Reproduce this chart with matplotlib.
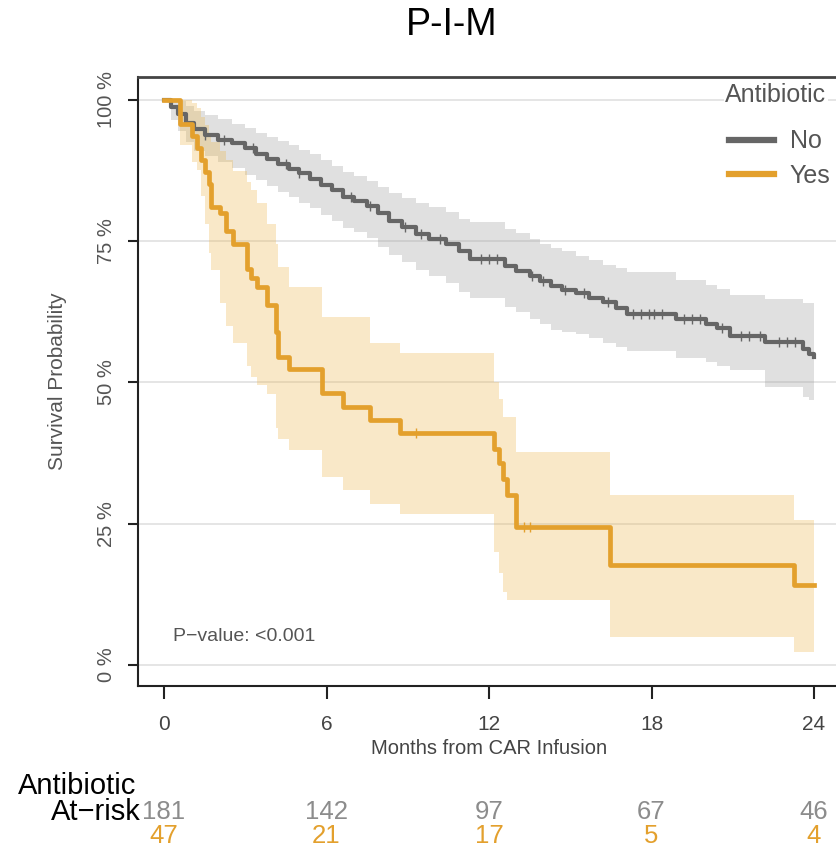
import numpy as np
import matplotlib
matplotlib.use('Agg')
import matplotlib.pyplot as plt
from matplotlib import transforms
from matplotlib.lines import Line2D

# ---------------- data ----------------
no_t = [0, 0.25, 0.5, 0.8, 1.1, 1.5, 2.0, 2.5, 3.0, 3.4, 3.8, 4.2, 4.6, 5.0, 5.4, 5.8, 6.2, 6.6, 7.0, 7.5,
        7.9, 8.3, 8.8, 9.3, 9.8, 10.4, 10.9, 11.3, 12.6, 13.0, 13.5, 13.9, 14.3, 14.7, 15.2, 15.7, 16.2,
        16.7, 17.1, 18.9, 20.0, 20.4, 20.9, 22.2, 23.6, 23.8, 24.0]
no_s = [100, 98.8, 97.5, 96.0, 94.8, 93.8, 93.0, 92.3, 91.5, 90.5, 89.5, 88.6, 87.8, 87.0, 86.0, 85.0,
        84.0, 82.8, 82.2, 81.3, 80.0, 78.6, 77.6, 76.2, 75.4, 74.5, 73.2, 71.8, 70.6, 69.8, 68.8, 68.0,
        67.0, 66.4, 65.8, 65.0, 64.3, 63.2, 62.2, 61.2, 60.4, 59.6, 58.2, 57.2, 56.0, 55.0, 54.5]
no_up = [100, 100, 99.8, 99.0, 98.0, 97.3, 96.6, 95.8, 95.0, 94.2, 93.5, 92.7, 92.0, 91.2, 90.4, 89.3,
         88.4, 87.3, 86.6, 85.6, 84.6, 83.6, 82.7, 81.8, 81.0, 80.2, 79.0, 78.4, 77.2, 76.4, 75.4, 74.6,
         73.8, 73.2, 72.4, 71.6, 70.8, 70.2, 69.6, 68.1, 67.3, 66.6, 65.4, 64.8, 64.0, 64.0, 64.0]
no_lo = [100, 96.5, 94.5, 92.5, 91.0, 90.0, 89.0, 88.0, 86.8, 85.8, 84.8, 83.8, 82.8, 81.8, 80.8, 79.6,
         78.5, 77.3, 76.6, 75.5, 74.0, 72.5, 71.4, 69.9, 68.9, 67.6, 66.0, 64.9, 63.4, 62.4, 61.3, 60.3,
         59.3, 59.0, 58.6, 57.8, 57.0, 56.3, 55.5, 54.3, 53.6, 53.0, 52.2, 49.2, 47.4, 46.9, 46.5]
no_cens = [1.5, 2.2, 3.3, 4.5, 5.0, 6.9, 7.6, 8.9, 9.5, 10.2, 11.7, 12.0, 12.3, 13.6, 14.0, 14.8, 15.5,
           16.4, 17.3, 17.6, 17.9, 18.1, 18.4, 19.2, 19.5, 19.8, 20.6, 21.3, 21.6, 22.0, 22.7, 23.0, 23.3]

yes_t = [0, 0.6, 1.05, 1.2, 1.35, 1.5, 1.65, 1.75, 2.05, 2.3, 2.55, 3.05, 3.2, 3.45, 3.8, 4.15, 4.2,
         4.6, 5.85, 6.6, 7.6, 8.7, 12.2, 12.35, 12.5, 12.65, 13.0, 16.45, 23.25, 24.0]
yes_s = [100, 95.7, 93.6, 91.5, 89.4, 87.2, 85.1, 81.0, 80.0, 76.8, 74.5, 70.0, 68.5, 66.9, 63.8, 59.0,
         54.5, 52.4, 48.1, 45.7, 43.4, 41.1, 38.2, 35.8, 33.0, 30.1, 24.4, 17.7, 14.2, 14.2]
yes_up = [100, 100, 99.5, 98.5, 97.0, 95.5, 94.0, 92.5, 91.0, 89.4, 87.5, 85.5, 84.0, 81.8, 78.0, 74.5,
          70.5, 66.9, 61.6, 61.6, 57.0, 55.2, 50.0, 47.0, 43.9, 43.9, 37.7, 30.1, 25.7, 25.7]
yes_lo = [100, 92.0, 89.0, 87.6, 83.0, 78.0, 73.0, 69.9, 64.1, 60.0, 57.0, 53.0, 51.0, 49.5, 48.0, 42.0,
          40.0, 38.0, 33.3, 31.0, 28.5, 26.8, 20.0, 16.3, 13.0, 11.5, 11.5, 5.0, 2.3, 2.3]
yes_cens = [9.3, 13.3, 13.5]

groups = ["No", "Yes"]
risk_times = [0, 6, 12, 18, 24]
risk_no = [181, 142, 97, 67, 46]
risk_yes = [47, 21, 17, 5, 4]
y_ticks = [0, 25, 50, 75, 100]
y_ticklabels = ["0 %", "25 %", "50 %", "75 %", "100 %"]

# ---------------- style ----------------
GRAY = '#666666'
ORANGE = '#E3A02D'
REG = ['Liberation Sans', 'DejaVu Sans']
plt.rcParams['font.family'] = REG

W, H = 836, 849
fig = plt.figure(figsize=(W / 100, H / 100), dpi=100)
ax = fig.add_axes([138 / W, 163 / H, 698 / W, 609 / H])
ax.set_xlim(-0.96, 24.81)
ax.set_ylim(-3.72, 104.07)


def step_val(ts, ss, x):
    i = np.searchsorted(np.asarray(ts), x, side='right') - 1
    return np.asarray(ss)[i]


# bands
ax.fill_between(no_t, no_lo, no_up, step='post', color='#9a9a9a', alpha=0.3, lw=0, zorder=2)
ax.fill_between(yes_t, yes_lo, yes_up, step='post', color='#EDB54A', alpha=0.3, lw=0, zorder=2)
# curves
ax.step(no_t, no_s, where='post', color=GRAY, lw=3.0, zorder=4)
ax.step(yes_t, yes_s, where='post', color=ORANGE, lw=3.4, zorder=4)
# censor marks
ax.plot(no_cens, [step_val(no_t, no_s, c) for c in no_cens], ls='none', marker='|',
        ms=7, mew=1.0, color=GRAY, zorder=5)
ax.plot(yes_cens, [step_val(yes_t, yes_s, c) for c in yes_cens], ls='none', marker='|',
        ms=7, mew=1.0, color=ORANGE, zorder=5)

# axes styling
ax.set_yticks(y_ticks)
ax.set_yticklabels(y_ticklabels, rotation=90, va='center', fontsize=14.5, color='#555555')
ax.set_xticks(risk_times)
ax.set_xticklabels([str(t) for t in risk_times], fontsize=15, color='#444444')
ax.tick_params(axis='y', length=7, width=1.5, pad=9, color='#222222')
ax.tick_params(axis='x', length=9, width=1.5, pad=12, color='#222222')
ax.yaxis.grid(True, color='#e0e0e0', lw=1.2)
ax.set_axisbelow(True)
ax.spines['right'].set_visible(False)
ax.spines['left'].set_color('#222222')
ax.spines['left'].set_linewidth(1.5)
ax.spines['bottom'].set_color('#222222')
ax.spines['bottom'].set_linewidth(1.5)
ax.spines['top'].set_color('#444444')
ax.spines['top'].set_linewidth(2.0)

ax.set_ylabel('Survival Probability', fontsize=15, color='#555555', va='center')
ax.yaxis.set_label_coords(-0.116, 0.5)
ax.set_xlabel('Months from CAR Infusion', fontsize=14.5, color='#444444', va='center')
ax.xaxis.set_label_coords(0.503, -0.102)

ax.text(0.33, 5.1, 'P\u2212value: <0.001', fontsize=14, color='#555555', ha='left', va='center')

# legend
fig.text(725 / W, 1 - 95 / H, 'Antibiotic', ha='left', va='center', fontsize=18, color='#555555',
         bbox=dict(facecolor='white', edgecolor='none', pad=1), zorder=10)
handles = [Line2D([0], [0], color=GRAY, lw=4.5), Line2D([0], [0], color=ORANGE, lw=4.5)]
leg = ax.legend(handles, groups, loc='upper left',
                bbox_to_anchor=(726 / W, 1 - 127 / H), bbox_transform=fig.transFigure,
                frameon=True, facecolor='white', edgecolor='none', framealpha=1.0,
                prop={'size': 18}, handlelength=1.8, handletextpad=0.65, labelspacing=0.42,
                borderpad=0.1, borderaxespad=0)
for t in leg.get_texts():
    t.set_color('#555555')
leg.set_zorder(10)

# title
fig.text(452 / W, 1 - 25 / H, 'P-I-M', ha='center', va='center', fontsize=27)

# at-risk table
trans = transforms.blended_transform_factory(ax.transData, fig.transFigure)
fig.text(18 / W, 1 - 786 / H, 'Antibiotic', ha='left', va='center', fontsize=21)
fig.text(141 / W, 1 - 812 / H, 'At\u2212risk', ha='right', va='center', fontsize=21)
for t, n in zip(risk_times, risk_no):
    ax.text(t, 1 - 812 / H, str(n), transform=trans, ha='center', va='center', fontsize=18.5,
            color='#8c8c8c', clip_on=False)
for t, n in zip(risk_times, risk_yes):
    ax.text(t, 1 - 836 / H, str(n), transform=trans, ha='center', va='center', fontsize=18.5,
            color=ORANGE, clip_on=False)

fig.savefig('out.png', dpi=100)
